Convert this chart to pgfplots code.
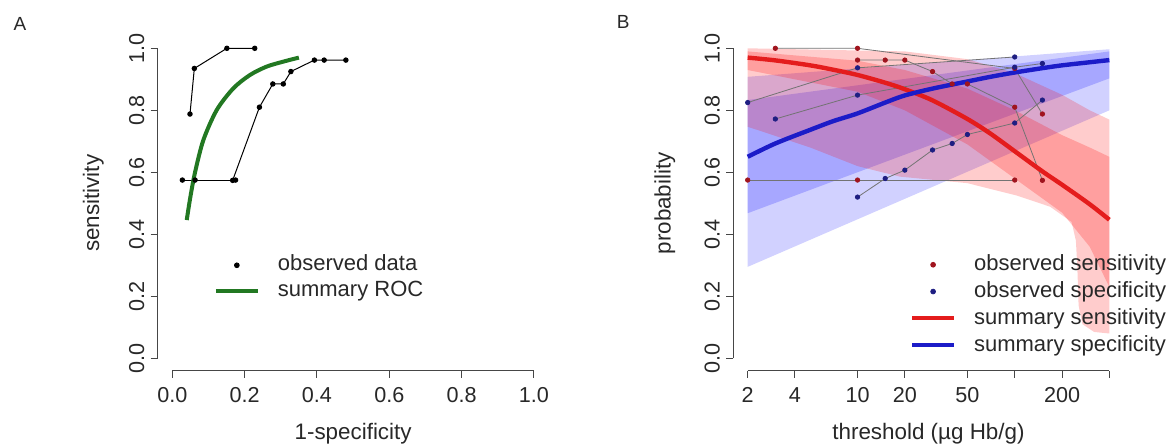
\documentclass[border=0pt]{standalone}
\usepackage{fontspec}
\setmainfont{Liberation Sans}
\usepackage{pgfplots}
\pgfplotsset{compat=1.18}
\definecolor{roc}{RGB}{34,120,34}
\definecolor{sensline}{RGB}{228,28,28}
\definecolor{specline}{RGB}{28,28,200}
\definecolor{sensdot}{RGB}{160,20,30}
\definecolor{specdot}{RGB}{30,30,130}
\definecolor{axcol}{RGB}{70,70,70}
\definecolor{txtcol}{RGB}{40,40,40}
\pgfplotsset{
  rbase/.style={
    scale only axis, width=195.3pt, height=167.4pt,
    ymin=-0.04, ymax=1.04,
    axis x line*=bottom, axis y line*=left,
    axis line style={draw=none},
    tick align=outside, major tick length=3.6pt,
    tick style={axcol, line width=0.5pt},
    ytick={0,0.2,0.4,0.6,0.8,1}, yticklabels={0.0,0.2,0.4,0.6,0.8,1.0},
    tick label style={font=\fontsize{10.8}{13}\selectfont, text=txtcol, inner sep=0pt, outer sep=0pt},
    xticklabel style={anchor=north, yshift=-4.9pt},
    yticklabel style={xshift=-3.15pt, rotate=90, anchor=south},
    every axis x label/.style={at={(axis description cs:0.5,-0.187)}, anchor=center,
      font=\fontsize{11.2}{13}\selectfont, text=txtcol},
    legend style={draw=none, fill=none, font=\fontsize{11}{13}\selectfont, text=txtcol,
      inner sep=0pt, outer sep=0pt, row sep=0pt, column sep=8pt,
      nodes={inner sep=1pt, text height=8.3pt, text depth=2.7pt}},
    legend cell align=left,
    clip=false,
  }
}
\begin{document}
\begin{tikzpicture}
\useasboundingbox (0,0) rectangle (587.5pt,223pt);
% ---------------- Panel A ----------------
\begin{axis}[rbase,
  at={(78.9pt,37.65pt)}, anchor=south west,
  xmin=-0.04, xmax=1.04,
  xtick={0,0.2,0.4,0.6,0.8,1}, xticklabels={0.0,0.2,0.4,0.6,0.8,1.0},
  xlabel={1-specificity}, ylabel={sensitivity},
  every axis y label/.style={at={(axis description cs:-0.165,0.5)}, rotate=90, anchor=center,
    font=\fontsize{11.2}{13}\selectfont, text=txtcol},
  legend style={at={(axis cs:0.115,0.342)}, anchor=north west},
]
\draw[axcol, line width=0.5pt] (axis cs:0,-0.04) -- (axis cs:1,-0.04);
\draw[axcol, line width=0.5pt] (axis cs:-0.04,0) -- (axis cs:-0.04,1);
\addplot[black, line width=0.5pt, mark=*, mark size=1.1pt, forget plot]
  coordinates {(0.228,1.0) (0.151,1.0) (0.061,0.935) (0.049,0.788)};
\addplot[black, line width=0.5pt, mark=*, mark size=1.1pt, forget plot]
  coordinates {(0.48,0.962) (0.42,0.962) (0.393,0.962) (0.328,0.925) (0.307,0.885) (0.278,0.885) (0.241,0.81) (0.167,0.574)};
\addplot[black, line width=0.5pt, mark=*, mark size=1.1pt, forget plot]
  coordinates {(0.175,0.575) (0.063,0.575) (0.028,0.575)};
\addplot[roc, line width=2pt, smooth, tension=0.5, forget plot]
  coordinates {(0.040,0.446) (0.050,0.520) (0.063,0.600) (0.086,0.704) (0.123,0.801) (0.169,0.871) (0.215,0.914) (0.261,0.941) (0.307,0.957) (0.350,0.970)};
\addlegendimage{legend image code/.code={\fill[black] (10.5pt,0pt) circle (1.2pt);}}
\addlegendentry{observed data}
\addlegendimage{legend image code/.code={\draw[roc, line width=2pt] (0pt,0pt) -- (21pt,0pt);}}
\addlegendentry{summary ROC}
\end{axis}
% ---------------- Panel B ----------------
\begin{axis}[rbase,
  at={(366.6pt,37.65pt)}, anchor=south west,
  xmode=log, xmin=1.618, xmax=494.3,
  xtick={2,4,10,20,50,100,200,400}, xticklabels={2,4,10,20,50,,200,},
  xminorticks=false,
  xlabel={threshold (µg Hb/g)}, ylabel={probability},
  every axis y label/.style={at={(axis description cs:-0.175,0.5)}, rotate=90, anchor=center,
    font=\fontsize{11.2}{13}\selectfont, text=txtcol},
  legend style={at={(axis cs:21.6,0.345)}, anchor=north west,
    nodes={text height=8.7pt}},
]
\draw[axcol, line width=0.5pt] (axis cs:2,-0.04) -- (axis cs:400,-0.04);
\draw[axcol, line width=0.5pt] (axis cs:1.618,0) -- (axis cs:1.618,1);
% bands
\addplot[draw=none, fill=blue, fill opacity=0.18, forget plot]
  coordinates {(2,0.908) (400,0.997) (400,0.80) (2,0.295)} -- cycle;
\addplot[draw=none, fill=blue, fill opacity=0.2, forget plot]
  coordinates {(2,0.833) (400,0.99) (400,0.903) (2,0.468)} -- cycle;
\addplot[draw=none, fill=red, fill opacity=0.2, forget plot]
  coordinates {(2,1.0) (20,0.99) (50,0.965) (100,0.92) (200,0.85) (300,0.80) (400,0.77)
   (400,0.08) (320,0.085) (270,0.11) (255,0.17) (250,0.30) (245,0.38) (230,0.44) (168,0.489) (103,0.525) (50,0.565) (18.6,0.586) (10,0.62) (5,0.68) (2,0.747)} -- cycle;
\addplot[draw=none, fill=red, fill opacity=0.22, forget plot]
  coordinates {(2,0.99) (10,0.96) (20,0.93) (50,0.87) (100,0.80) (200,0.72) (300,0.68) (400,0.65)
   (400,0.23) (300,0.36) (200,0.47) (100,0.58) (50,0.69) (20,0.80) (10,0.86) (2,0.93)} -- cycle;
% study lines
\addplot[black!55, line width=0.4pt, mark=*, mark size=1.1pt, mark options={draw=sensdot, fill=sensdot}, forget plot]
  coordinates {(3,1.0) (10,1.0) (100,0.935) (150,0.788)};
\addplot[black!55, line width=0.4pt, mark=*, mark size=1.1pt, mark options={draw=specdot, fill=specdot}, forget plot]
  coordinates {(3,0.772) (10,0.849) (100,0.939) (150,0.951)};
\addplot[black!55, line width=0.4pt, mark=*, mark size=1.1pt, mark options={draw=sensdot, fill=sensdot}, forget plot]
  coordinates {(10,0.962) (15,0.962) (20,0.962) (30,0.925) (40,0.885) (50,0.885) (100,0.81) (150,0.574)};
\addplot[black!55, line width=0.4pt, mark=*, mark size=1.1pt, mark options={draw=specdot, fill=specdot}, forget plot]
  coordinates {(10,0.52) (15,0.58) (20,0.607) (30,0.672) (40,0.693) (50,0.722) (100,0.759) (150,0.833)};
\addplot[black!55, line width=0.4pt, mark=*, mark size=1.1pt, mark options={draw=sensdot, fill=sensdot}, forget plot]
  coordinates {(2,0.575) (10,0.575) (100,0.575)};
\addplot[black!55, line width=0.4pt, mark=*, mark size=1.1pt, mark options={draw=specdot, fill=specdot}, forget plot]
  coordinates {(2,0.825) (10,0.937) (100,0.972)};
% summary curves
\addplot[sensline, line width=2.2pt, smooth, forget plot]
  coordinates {(2,0.970) (3,0.961) (5,0.945) (7,0.931) (10,0.914) (15,0.889) (20,0.868) (30,0.832) (50,0.772) (70,0.725) (100,0.668) (150,0.603) (200,0.560) (300,0.497) (400,0.447)};
\addplot[specline, line width=2.2pt, smooth, forget plot]
  coordinates {(2,0.650) (3,0.693) (5,0.737) (7,0.765) (10,0.790) (15,0.825) (20,0.848) (30,0.870) (50,0.893) (70,0.908) (100,0.922) (150,0.936) (200,0.945) (300,0.955) (400,0.962)};
\addlegendimage{legend image code/.code={\fill[sensdot] (10.5pt,0pt) circle (1.2pt);}}
\addlegendentry{observed sensitivity}
\addlegendimage{legend image code/.code={\fill[specdot] (10.5pt,0pt) circle (1.2pt);}}
\addlegendentry{observed specificity}
\addlegendimage{legend image code/.code={\draw[sensline, line width=2pt] (0pt,0pt) -- (21pt,0pt);}}
\addlegendentry{summary sensitivity}
\addlegendimage{legend image code/.code={\draw[specline, line width=2pt] (0pt,0pt) -- (21pt,0pt);}}
\addlegendentry{summary specificity}
\end{axis}
\node[font=\fontsize{9.5}{11}\selectfont, text=txtcol] at (10pt,211.1pt) {A};
\node[font=\fontsize{9.5}{11}\selectfont, text=txtcol] at (311.65pt,212.15pt) {B};
\end{tikzpicture}
\end{document}
